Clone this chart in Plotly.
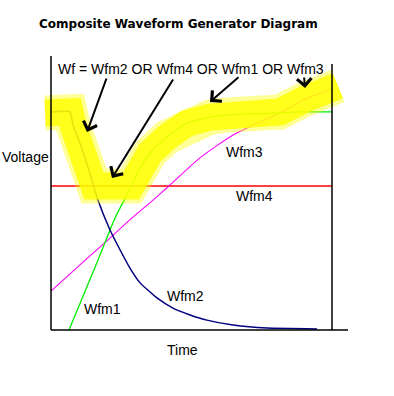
import plotly.graph_objects as go

# ---------------- data (time units 0..10, voltage units 0..10) ----------------
wfm4_t = [0.0, 10.0]
wfm4_v = [5.26, 5.26]

wfm1_t = [0.64, 1.60, 2.28, 2.70, 3.17, 3.52, 4.13, 4.84, 5.66, 6.26, 8.04, 8.75, 10.0]
wfm1_v = [0.00, 2.37, 4.09, 4.93, 5.91, 6.46, 7.04, 7.55, 7.77, 7.85, 7.92, 7.96, 7.96]

wfm2_t = [0.0, 0.68, 0.78, 0.96, 1.14, 1.39, 1.67, 2.10, 2.46, 2.81, 3.17, 3.77, 4.34,
          4.95, 5.55, 6.48, 7.69, 9.47]
wfm2_v = [7.96, 7.96, 7.48, 7.01, 6.50, 5.69, 4.74, 3.65, 2.92, 2.26, 1.72, 1.17, 0.80,
          0.55, 0.36, 0.18, 0.07, 0.04]

wfm3_t = [0.0, 1.03, 1.99, 2.88, 3.63, 4.16, 5.30, 6.48, 7.44, 8.15, 8.97, 9.68, 9.93]
wfm3_v = [1.42, 2.38, 3.25, 4.09, 4.74, 5.22, 6.28, 7.12, 7.59, 7.92, 8.39, 8.69, 8.80]

wf_t = [-0.21, 0.0, 0.68, 0.78, 0.96, 1.14, 1.39, 1.53, 2.85, 3.17, 3.52, 4.13, 4.84,
        5.66, 6.26, 8.04, 8.15, 8.97, 9.68, 10.0, 10.21]
wf_v = [7.92, 7.96, 7.96, 7.48, 7.01, 6.50, 5.69, 5.26, 5.26, 5.91, 6.46, 7.04, 7.55,
        7.77, 7.85, 7.92, 7.96, 8.39, 8.69, 8.83, 8.91]

wave_labels = ["Wfm1", "Wfm2", "Wfm3", "Wfm4"]
title_text = "Composite Waveform Generator Diagram"
formula_text = "Wf = Wfm2 OR Wfm4 OR Wfm1 OR Wfm3"

# ---------------- layout helpers (pixel <-> data) ----------------
W, H = 394, 396
X0, XS = 51.0, 28.1      # pixel of t=0, px per time unit
Y0, YS = 330.0, 27.4     # pixel of v=0, px per voltage unit


def tx(px):
    return (px - X0) / XS


def vy(py):
    return (Y0 - py) / YS


FONT = "Liberation Sans, Arial, sans-serif"

fig = go.Figure()

# individual waveforms
fig.add_trace(go.Scatter(x=wfm4_t, y=wfm4_v, mode="lines",
                         line=dict(color="#FF0000", width=1.5), showlegend=False))
fig.add_trace(go.Scatter(x=wfm3_t, y=wfm3_v, mode="lines",
                         line=dict(color="#FF00FF", width=1.1, shape="spline", smoothing=0.6),
                         showlegend=False))
fig.add_trace(go.Scatter(x=wfm1_t, y=wfm1_v, mode="lines",
                         line=dict(color="#00EE00", width=1.3, shape="spline", smoothing=0.6),
                         showlegend=False))
fig.add_trace(go.Scatter(x=wfm2_t, y=wfm2_v, mode="lines",
                         line=dict(color="#000080", width=1.5, shape="spline", smoothing=0.4),
                         showlegend=False))

# yellow composite band drawn over the waveforms (fuzzy edge + core)
fig.add_trace(go.Scatter(x=wf_t, y=wf_v, mode="lines",
                         line=dict(color="#FFFF00", width=35), opacity=0.4,
                         hoverinfo="skip", showlegend=False))
fig.add_trace(go.Scatter(x=wf_t, y=wf_v, mode="lines",
                         line=dict(color="#FFFF00", width=27), opacity=0.82,
                         hoverinfo="skip", showlegend=False))

# axis frame lines
shapes = [
    dict(type="line", xref="x", yref="y", x0=tx(51), x1=tx(51), y0=vy(56), y1=vy(330),
         line=dict(color="black", width=1.5)),
    dict(type="line", xref="x", yref="y", x0=tx(51), x1=tx(348), y0=vy(330), y1=vy(330),
         line=dict(color="black", width=1.5)),
    dict(type="line", xref="x", yref="y", x0=tx(332), x1=tx(332), y0=vy(64), y1=vy(330),
         line=dict(color="black", width=1.5)),
]

ann = []


def text(s, px, py, size=14, bold=False):
    ann.append(dict(x=tx(px), y=vy(py), xref="x", yref="y", text=s, showarrow=False,
                    xanchor="center", yanchor="middle",
                    font=dict(family="DejaVu Sans" if bold else FONT, size=size,
                              color="black", weight="bold" if bold else "normal")))


text(title_text, 178, 24, size=12, bold=True)
text(formula_text, 190.5, 68.5)
text("Voltage", 25, 157)
text("Time", 182.5, 350)
text(wave_labels[0], 102, 309)
text(wave_labels[1], 185.5, 296)
text(wave_labels[2], 244.5, 152)
text(wave_labels[3], 254.5, 196)

# arrows: (head px, head py, tail px, tail py)
arrows = [(87, 132, 107, 77), (112, 178, 174, 78), (210, 102, 240, 76), (305, 88, 304, 76)]
for hx, hy, tlx, tly in arrows:
    ann.append(dict(x=tx(hx), y=vy(hy), xref="x", yref="y", text="", showarrow=True,
                    ax=tlx - hx, ay=tly - hy, axref="pixel", ayref="pixel",
                    arrowhead=4, arrowsize=1.4, arrowwidth=2, arrowcolor="black",
                    standoff=0, startstandoff=0))

fig.update_layout(
    width=W, height=H,
    margin=dict(l=0, r=0, t=0, b=0),
    paper_bgcolor="white", plot_bgcolor="white",
    xaxis=dict(range=[tx(0), tx(W)], visible=False, showgrid=False, zeroline=False,
               fixedrange=True),
    yaxis=dict(range=[vy(H), vy(0)], visible=False, showgrid=False, zeroline=False,
               fixedrange=True),
    shapes=shapes, annotations=ann, showlegend=False,
)

fig.write_html("out.html", config={"displayModeBar": False},
               post_script="document.body.style.margin='0';document.body.style.overflow='hidden';")
